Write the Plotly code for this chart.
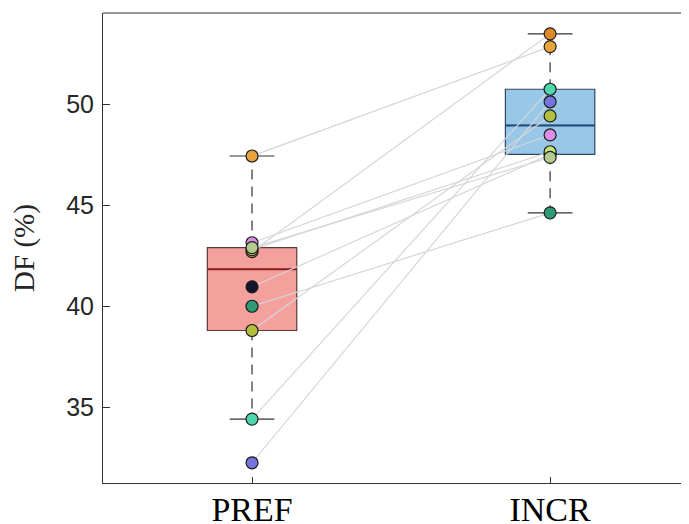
import numpy as np
import plotly.graph_objects as go

# ---- data ----
categories = ["PREF", "INCR"]
subject_colors = ["#14142e", "#dc8a26", "#e9a33a", "#4ed6ac", "#7474dc",
                  "#b3bf3c", "#2f9a78", "#dc8ee6", "#c4e27c", "#b3cb8e"]
pref_values = [40.96, 42.70, 47.43, 34.42, 32.26, 38.80, 40.00, 43.14, 42.80, 42.90]
incr_values = [47.51, 53.47, 52.84, 50.73, 50.11, 49.41, 44.62, 48.47, 47.64, 47.36]
y_ticks = [35, 40, 45, 50]

box_fill = ["#f4a19d", "#98c7e8"]
box_line = ["#5b3a3a", "#2e4a66"]
median_color = ["#8a1f1f", "#1d4e7a"]

positions = [1, 2]
box_w = 0.30
cap_w = 0.15

def box_stats(vals):
    v = np.sort(np.asarray(vals))
    q1, med, q3 = np.percentile(v, [25, 50, 75], method="hazen")
    iqr = q3 - q1
    lo = v[v >= q1 - 1.5 * iqr].min()
    hi = v[v <= q3 + 1.5 * iqr].max()
    return q1, med, q3, lo, hi

fig = go.Figure()

groups = [pref_values, incr_values]
for i, vals in enumerate(groups):
    q1, med, q3, lo, hi = box_stats(vals)
    p = positions[i]
    fig.add_trace(go.Box(
        x=[p], q1=[q1], median=[med], q3=[q3], lowerfence=[q1], upperfence=[q3],
        width=box_w, fillcolor=box_fill[i], line=dict(color=box_line[i], width=1.2),
        whiskerwidth=0, boxpoints=False, hoverinfo="skip", showlegend=False))
    # median (recoloured)
    fig.add_trace(go.Scatter(x=[p - box_w / 2, p + box_w / 2], y=[med, med], mode="lines",
                             line=dict(color=median_color[i], width=2), showlegend=False,
                             hoverinfo="skip"))
    # whiskers (dashed)
    fig.add_trace(go.Scatter(x=[p, p, None, p, p], y=[q3, hi, None, q1, lo], mode="lines",
                             line=dict(color="#333333", width=1.2, dash="10px,7px"),
                             showlegend=False, hoverinfo="skip"))
    # caps
    fig.add_trace(go.Scatter(x=[p - cap_w / 2, p + cap_w / 2, None, p - cap_w / 2, p + cap_w / 2],
                             y=[hi, hi, None, lo, lo], mode="lines",
                             line=dict(color="#333333", width=1.2),
                             showlegend=False, hoverinfo="skip"))

# paired lines
for a, b in zip(pref_values, incr_values):
    fig.add_trace(go.Scatter(x=positions, y=[a, b], mode="lines",
                             line=dict(color="#d6d6d6", width=1.2),
                             showlegend=False, hoverinfo="skip"))

# points
fig.add_trace(go.Scatter(
    x=[positions[0]] * len(pref_values) + [positions[1]] * len(incr_values),
    y=pref_values + incr_values, mode="markers",
    marker=dict(size=12, color=subject_colors + subject_colors,
                line=dict(color="#1e1e1e", width=1.2)),
    showlegend=False))

fig.update_layout(
    width=681, height=516,
    margin=dict(l=95, r=0, t=5, b=41),
    plot_bgcolor="white", paper_bgcolor="white",
    xaxis=dict(range=[0.5, 2.466], tickvals=positions, ticktext=categories, automargin=False,
               showgrid=False, zeroline=False, showline=True, linecolor="#333333",
               linewidth=1, ticks="inside", ticklen=6, tickcolor="#333333",
               ticklabelstandoff=-4,
               tickfont=dict(family="Liberation Serif, Times New Roman, serif", size=34, color="#000000")),
    yaxis=dict(range=[31.26, 54.5], tickvals=y_ticks, automargin=False,
               showgrid=False, zeroline=False, showline=True, linecolor="#333333",
               linewidth=1, ticks="inside", ticklen=7, tickcolor="#333333",
               ticklabelstandoff=3,
               tickfont=dict(family="Liberation Sans, Arial, sans-serif", size=25, color="#262626"),
               title=dict(text="DF (%)", standoff=23,
                          font=dict(family="Liberation Serif, Times New Roman, serif", size=29, color="#262626"))),
    shapes=[dict(type="line", xref="paper", yref="paper", x0=0, x1=1, y0=1, y1=1,
                 line=dict(color="#333333", width=1))],
)

fig.write_html("out.html")
